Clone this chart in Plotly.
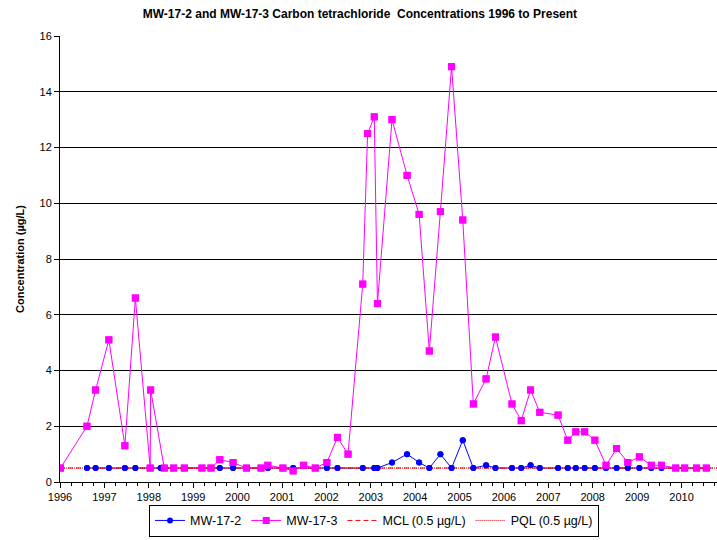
import plotly.graph_objects as go

# Sampling dates and results (µg/L) for each well
mw172_dates = [
    "1996-08-10", "1996-10-20", "1997-02-06", "1997-06-18", "1997-09-12",
    "1998-01-12", "1998-04-08", "1998-05-08", "1998-07-24", "1998-10-20",
    "1999-03-14", "1999-05-27", "1999-08-08", "1999-11-25", "2000-03-14",
    "2000-07-12", "2000-09-06", "2001-01-08", "2001-04-02", "2001-10-01",
    "2002-01-05", "2002-04-02", "2002-10-27", "2003-01-30", "2003-02-25",
    "2003-06-25", "2003-10-27", "2004-02-03", "2004-04-27", "2004-07-27",
    "2004-10-27", "2005-01-27", "2005-04-24", "2005-08-07", "2005-10-23",
    "2006-03-08", "2006-05-23", "2006-08-08", "2006-10-23", "2007-03-22",
    "2007-06-10", "2007-08-15", "2007-10-27", "2008-01-19", "2008-04-20",
    "2008-07-16", "2008-10-16", "2009-01-19", "2009-04-27", "2009-07-20",
    "2009-11-14", "2010-01-27", "2010-05-05", "2010-07-24",
]
mw172_values = [
    0.5, 0.5, 0.5, 0.5, 0.5,
    0.5, 0.5, 0.5, 0.5, 0.5,
    0.5, 0.5, 0.5, 0.5, 0.5,
    0.5, 0.5, 0.5, 0.5, 0.5,
    0.5, 0.5, 0.5, 0.5, 0.5,
    0.7, 1.0, 0.7, 0.5, 1.0,
    0.5, 1.5, 0.5, 0.6, 0.5,
    0.5, 0.5, 0.6, 0.5, 0.5,
    0.5, 0.5, 0.5, 0.5, 0.5,
    0.5, 0.5, 0.5, 0.5, 0.5,
    0.5, 0.5, 0.5, 0.5,
]

mw173_dates = [
    "1996-01-05", "1996-08-10", "1996-10-20", "1997-02-06", "1997-06-18",
    "1997-09-12", "1998-01-12", "1998-01-16", "1998-05-08", "1998-07-24",
    "1998-10-20", "1999-03-14", "1999-05-27", "1999-08-08", "1999-11-25",
    "2000-03-14", "2000-07-12", "2000-09-06", "2001-01-08", "2001-04-02",
    "2001-06-28", "2001-10-01", "2002-01-05", "2002-04-02", "2002-06-28",
    "2002-10-27", "2002-12-06", "2003-01-30", "2003-02-25", "2003-06-25",
    "2003-10-27", "2004-02-03", "2004-04-27", "2004-07-27", "2004-10-27",
    "2005-01-27", "2005-04-24", "2005-08-07", "2005-10-23", "2006-03-08",
    "2006-05-23", "2006-08-08", "2006-10-23", "2007-03-22", "2007-06-10",
    "2007-08-15", "2007-10-27", "2008-01-19", "2008-04-20", "2008-07-16",
    "2008-10-16", "2009-01-19", "2009-04-27", "2009-07-20", "2009-11-14",
    "2010-01-27", "2010-05-05", "2010-07-24",
]
mw173_values = [
    0.5, 2.0, 3.3, 5.1, 1.3,
    6.6, 0.5, 3.3, 0.5, 0.5,
    0.5, 0.5, 0.5, 0.8, 0.7,
    0.5, 0.5, 0.6, 0.5, 0.4,
    0.6, 0.5, 0.7, 1.6, 1.0,
    7.1, 12.5, 13.1, 6.4, 13.0,
    11.0, 9.6, 4.7, 9.7, 14.9,
    9.4, 2.8, 3.7, 5.2, 2.8,
    2.2, 3.3, 2.5, 2.4, 1.5,
    1.8, 1.8, 1.5, 0.6, 1.2,
    0.7, 0.9, 0.6, 0.6, 0.5,
    0.5, 0.5, 0.5,
]

# Regulatory limits
mcl_value = 0.5
pql_value = 0.5
x_start, x_end = "1996-01-01", "2010-10-20"

FONT = "Liberation Sans, Arial, sans-serif"
BLUE = "#0000FF"
MAGENTA = "#FF00FF"

fig = go.Figure()

fig.add_trace(go.Scatter(
    x=mw172_dates, y=mw172_values, name="MW-17-2", mode="lines+markers",
    line=dict(color=BLUE, width=1), marker=dict(color=BLUE, size=6, symbol="circle"),
    legendrank=1,
))
fig.add_trace(go.Scatter(
    x=mw173_dates, y=mw173_values, name="MW-17-3", mode="lines+markers",
    line=dict(color=MAGENTA, width=1), marker=dict(color=MAGENTA, size=7, symbol="square"),
    legendrank=2,
))
fig.add_trace(go.Scatter(
    x=[x_start, x_end], y=[mcl_value, mcl_value], name="MCL (0.5 µg/L)", mode="lines",
    line=dict(color="#FF0000", width=1, dash="5px,3px"), legendrank=3,
))
fig.add_trace(go.Scatter(
    x=[x_start, x_end], y=[pql_value, pql_value], name="PQL (0.5 µg/L)", mode="lines",
    line=dict(color="#D00000", width=1, dash="1px,1px"), legendrank=4,
))
# markers redrawn above the limit lines
fig.add_trace(go.Scatter(
    x=mw172_dates, y=mw172_values, mode="markers", showlegend=False, hoverinfo="skip",
    marker=dict(color=BLUE, size=6, symbol="circle"),
))
fig.add_trace(go.Scatter(
    x=mw173_dates, y=mw173_values, mode="markers", showlegend=False, hoverinfo="skip",
    marker=dict(color=MAGENTA, size=7, symbol="square"),
))

fig.update_layout(
    width=717, height=540,
    margin=dict(l=60, r=0, t=36, b=58),
    paper_bgcolor="white", plot_bgcolor="white",
    font=dict(family=FONT, size=11, color="black"),
    title=dict(
        text="<b>MW-17-2 and MW-17-3 Carbon tetrachloride  Concentrations 1996 to Present</b>",
        x=0.502, xref="container", xanchor="center", y=1 - 14 / 540, yanchor="middle",
        font=dict(family=FONT, size=12, color="black"),
    ),
    showlegend=True,
    legend=dict(
        orientation="h", x=0.478, xanchor="center", y=-0.087, yanchor="middle",
        bordercolor="black", borderwidth=1, bgcolor="white",
        font=dict(family=FONT, size=12.5, color="black"),
        traceorder="normal",
    ),
)

fig.update_xaxes(
    type="date", range=[x_start, x_end],
    tick0="1996-01-01", dtick="M12", tickformat="%Y",
    ticks="outside", ticklen=5, tickcolor="black", tickwidth=1,
    showgrid=False, showline=True, linecolor="black", linewidth=1,
    zeroline=False,
    minor=dict(dtick="M3", ticks="outside", ticklen=3, tickcolor="black", showgrid=False),
    tickfont=dict(family=FONT, size=11, color="black"),
)
fig.update_yaxes(
    range=[0, 16], dtick=2, tick0=0,
    ticks="outside", ticklen=5, tickcolor="black",
    showgrid=True, gridcolor="black", gridwidth=1,
    showline=True, linecolor="black", linewidth=1, zeroline=False,
    tickfont=dict(family=FONT, size=11, color="black"),
    title=dict(text="<b>Concentration (µg/L)</b>", standoff=12,
               font=dict(family=FONT, size=11, color="black")),
)

fig.write_html("out.html")
